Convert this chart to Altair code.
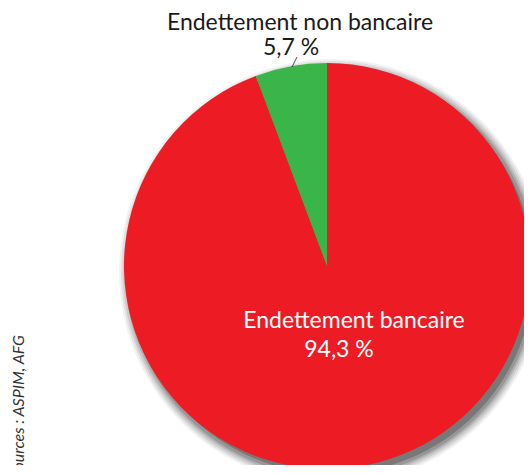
import altair as alt
import pandas as pd
import math

categories = ["Endettement bancaire", "Endettement non bancaire"]
shares = [94.3, 5.7]
colors = ["#ED1C24", "#39B54A"]
label_lines_1 = ["Endettement bancaire", "Endettement non bancaire"]
label_lines_2 = ["94,3 %", "5,7 %"]
source_text = "Sources : ASPIM, AFG"

W, H = 516, 457
CX, CY, R = 319, 258, 203
FONT = "Lato"

pie_df = pd.DataFrame({"cat": categories, "share": shares, "ord": [1, 2]})
one = pd.DataFrame({"k": [0]})

# fake blurred drop shadow
shadows = []
for dr, op in [(10, 0.05), (8, 0.07), (6, 0.09), (4, 0.12), (2, 0.15), (-1, 0.2)]:
    shadows.append(
        alt.Chart(one).mark_arc(
            theta=0, theta2=2 * math.pi, outerRadius=R + dr, color="black", opacity=op
        ).encode(x=alt.value(CX + 5), y=alt.value(CY + 6))
    )

pie = alt.Chart(pie_df).mark_arc(outerRadius=R, stroke=None).encode(
    theta=alt.Theta("share:Q", stack=True),
    color=alt.Color("cat:N", scale=alt.Scale(domain=categories, range=colors), legend=None),
    order=alt.Order("ord:Q"),
    x=alt.value(CX),
    y=alt.value(CY),
)

txt_df = pd.DataFrame({
    "t": [label_lines_1[1], label_lines_2[1], label_lines_1[0], label_lines_2[0]],
    "px": [292, 283, 346, 331],
    "py": [22, 47, 320, 349],
    "c": ["#1a1a1a", "#1a1a1a", "white", "white"],
})
texts = alt.Chart(txt_df).mark_text(
    font=FONT, fontSize=23, align="center", baseline="alphabetic"
).encode(
    text="t:N",
    x=alt.X("px:Q", scale=None),
    y=alt.Y("py:Q", scale=None),
    color=alt.Color("c:N", scale=None),
)

leader = alt.Chart(one).mark_rule(color="#222", strokeWidth=0.8).encode(
    x=alt.value(284), y=alt.value(59), x2=alt.value(289), y2=alt.value(49)
)

src = alt.Chart(one).mark_text(
    text=source_text, font=FONT, fontSize=16, fontStyle="italic", angle=270,
    align="right", baseline="alphabetic", color="#333"
).encode(x=alt.value(16), y=alt.value(327))

chart = alt.layer(*shadows, pie, leader, texts, src).properties(
    width=W, height=H, padding=0, autosize=alt.AutoSizeParams(type="none")
).configure_view(stroke=None)

chart.save("out.html", embed_options={"renderer": "svg", "actions": False})
